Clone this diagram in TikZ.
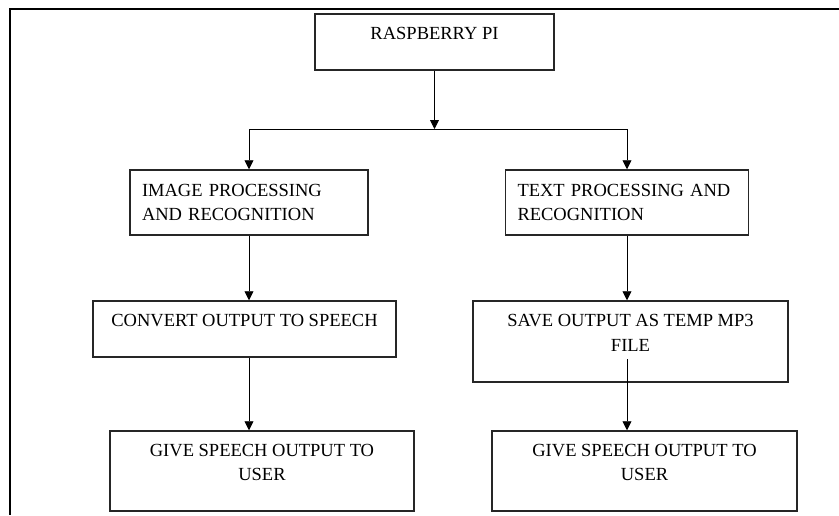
\documentclass[tikz,border=0pt]{standalone}
\usepackage{fontspec}
\setmainfont{Liberation Serif}
\usetikzlibrary{arrows.meta,positioning}
\tikzset{%
  box/.style = { draw=black!85, line width=1.5pt, inner sep=0pt, align=center, font=\fontsize{18.5}{24.5}\selectfont },
  lbox/.style = { box, align=left, inner xsep=12pt },
  flow/.style = { draw=black, line width=0.9pt, -{Triangle[length=9pt,width=9pt]} },
  frame/.style = { line width=2.4pt }
}

\begin{document}
\begin{tikzpicture}[x=1pt, y=-1pt]

  \useasboundingbox (0,0) rectangle (839,515);

  % Frame
  \draw[frame] (839,9) -- (10,9) -- (10,515);

  % Top
  \node[box, minimum width=239pt, minimum height=56pt] (pi) at (434.5,42) {RASPBERRY PI\\[-7pt]\mbox{}};
  \coordinate (split) at (434.5,129);

  % Row 1
  \node[lbox, text width=214pt, minimum height=65pt] (img) at (249,202.5) {IMAGE PROCESSING\\AND RECOGNITION};
  \node[lbox, text width=219pt, minimum height=65pt] (txt) at (627,202.5) {TEXT PROCESSING AND\\RECOGNITION};

  % Row 2
  \node[box, minimum width=303pt, minimum height=56pt] (conv) at (244.5,329) {CONVERT OUTPUT TO SPEECH\\[-7pt]\mbox{}};
  \node[box, minimum width=315pt, minimum height=81pt] (save) at (630.5,341.5) {SAVE OUTPUT AS TEMP MP3\\FILE\\[-7pt]\mbox{}};
  \coordinate (savedrop) at (627,359);

  % Row 3
  \node[box, minimum width=304pt, minimum height=80pt] (giveL) at (262,471) {GIVE SPEECH OUTPUT TO\\USER\\[-7pt]\mbox{}};
  \node[box, minimum width=305pt, minimum height=80pt] (giveR) at (644.5,471) {GIVE SPEECH OUTPUT TO\\USER\\[-7pt]\mbox{}};

  % Connectors
  \draw[flow] (pi) -- (split);
  \draw[flow] (split) -| (img);
  \draw[flow] (split) -| (txt);
  \draw[flow] (img) -- (img |- conv.north);
  \draw[flow] (txt) -- (txt |- save.north);
  \draw[flow] (img |- conv.south) -- (img |- giveL.north);
  \draw[flow] (savedrop) -- (savedrop |- giveR.north);

\end{tikzpicture}
\end{document}
